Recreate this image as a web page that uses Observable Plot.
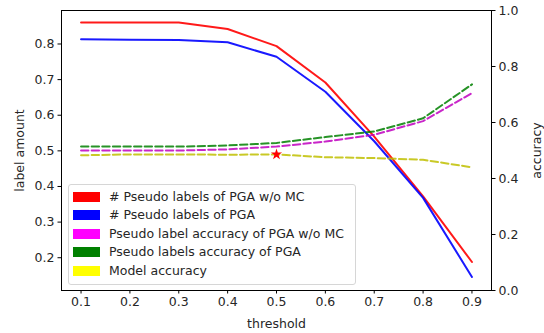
<!DOCTYPE html>
<html>
<head>
<meta charset="utf-8">
<script src="https://cdn.jsdelivr.net/npm/d3@7"></script>
<script src="https://cdn.jsdelivr.net/npm/@observablehq/plot@0.6"></script>
<style>
  html, body { margin: 0; padding: 0; background: #fff; }
  #wrap { position: relative; width: 544px; height: 333px; font-family: "DejaVu Sans", sans-serif; }
  #legend { position: absolute; left: 68px; top: 184px; width: 286px; height: 99px;
            border: 1px solid #d6d6d6; border-radius: 3px; background: rgba(255,255,255,0.85); }
  .row { position: absolute; left: 0; height: 18px; font-size: 12.5px; color: #262626; white-space: nowrap; }
  .sw { position: absolute; left: 4px; width: 27px; height: 10px; }
  .lb { position: absolute; left: 40px; line-height: 18px; top: 0; }
</style>
</head>
<body>
<div id="wrap"></div>
<script>
// ---- data ----
const thresholds = [0.1, 0.2, 0.3, 0.4, 0.5, 0.6, 0.7, 0.8, 0.9];
const pgaNoMcCount = [0.860, 0.860, 0.860, 0.842, 0.794, 0.692, 0.540, 0.372, 0.188];
const pgaCount     = [0.813, 0.812, 0.811, 0.805, 0.764, 0.666, 0.527, 0.368, 0.146];
const pgaNoMcAcc   = [0.500, 0.500, 0.500, 0.504, 0.514, 0.532, 0.556, 0.605, 0.705];
const pgaAcc       = [0.514, 0.514, 0.514, 0.518, 0.527, 0.548, 0.568, 0.615, 0.736];
const modelAcc     = [0.483, 0.486, 0.486, 0.485, 0.486, 0.476, 0.473, 0.467, 0.440];
const starThreshold = [0.5];
const starAcc = [0.486];
const leftTicks = [0.2, 0.3, 0.4, 0.5, 0.6, 0.7, 0.8];
const rightTicks = [0.0, 0.2, 0.4, 0.6, 0.8, 1.0];
const legendNames = ["# Pseudo labels of PGA w/o MC", "# Pseudo labels of PGA",
  "Pseudo label accuracy of PGA w/o MC", "Pseudo labels accuracy of PGA", "Model accuracy"];
const legendColors = ["#ff0000", "#0000ff", "#ff00ff", "#008000", "#ffff00"];

// ---- scales: left axis domain, right axis (accuracy 0..1) mapped onto it ----
const Y0 = 0.108, Y1 = 0.894;
const acc2y = a => Y0 + a * (Y1 - Y0);
const y2acc = y => (y - Y0) / (Y1 - Y0);

const rows = (vals, acc) => thresholds.map((t, i) => ({x: t, y: acc ? acc2y(vals[i]) : vals[i]}));
const dash = "7.4,3.2";

const chart = Plot.plot({
  width: 544, height: 333,
  marginLeft: 61, marginRight: 53, marginTop: 10, marginBottom: 43,
  x: {domain: [0.06, 0.94]},
  y: {domain: [Y0, Y1]},
  style: {fontFamily: "DejaVu Sans", fontSize: "12.5px", color: "#262626", background: "white", overflow: "visible"},
  marks: [
    Plot.axisX({ticks: thresholds, tickFormat: d => d.toFixed(1), tickSize: 3.5, tickPadding: 3,
      label: "threshold", labelAnchor: "center", labelArrow: "none", labelOffset: 37, stroke: "#000"}),
    Plot.axisY({ticks: leftTicks, tickFormat: d => d.toFixed(1), tickSize: 3.5, tickPadding: 3.5,
      label: "label amount", labelAnchor: "center", labelArrow: "none", labelOffset: 46, stroke: "#000"}),
    Plot.axisY(rightTicks.map(acc2y), {anchor: "right", tickFormat: d => y2acc(d).toFixed(1), tickSize: 3.5, tickPadding: 3.5,
      label: "accuracy", labelAnchor: "center", labelArrow: "none", labelOffset: 49, stroke: "#000"}),
    Plot.line(rows(pgaNoMcCount), {x: "x", y: "y", stroke: "#ff0000", strokeWidth: 2, strokeOpacity: 0.9}),
    Plot.line(rows(pgaCount), {x: "x", y: "y", stroke: "#0000ff", strokeWidth: 2, strokeOpacity: 0.9}),
    Plot.line(rows(pgaNoMcAcc, true), {x: "x", y: "y", stroke: "#bf00bf", strokeWidth: 2, strokeDasharray: dash, strokeOpacity: 0.85}),
    Plot.line(rows(pgaAcc, true), {x: "x", y: "y", stroke: "#008000", strokeWidth: 2, strokeDasharray: dash, strokeOpacity: 0.85}),
    Plot.line(rows(modelAcc, true), {x: "x", y: "y", stroke: "#bfbf00", strokeWidth: 2, strokeDasharray: dash, strokeOpacity: 0.85}),
    Plot.dot(starThreshold.map((t, i) => ({x: t, y: acc2y(starAcc[i])})), {x: "x", y: "y", symbol: "star", fill: "#ff0000", stroke: "none", r: 3.5}),
    Plot.frame({stroke: "#000", strokeWidth: 1})
  ]
});

const wrap = document.getElementById("wrap");
wrap.appendChild(chart);

const legend = document.createElement("div");
legend.id = "legend";
legendNames.forEach((name, i) => {
  const r = document.createElement("div");
  r.className = "row";
  r.style.top = (2.5 + i * 18.5) + "px";
  r.innerHTML = `<div class="sw" style="top:4px;background:${legendColors[i]}"></div><div class="lb">${name}</div>`;
  legend.appendChild(r);
});
wrap.appendChild(legend);
</script>
</body>
</html>
